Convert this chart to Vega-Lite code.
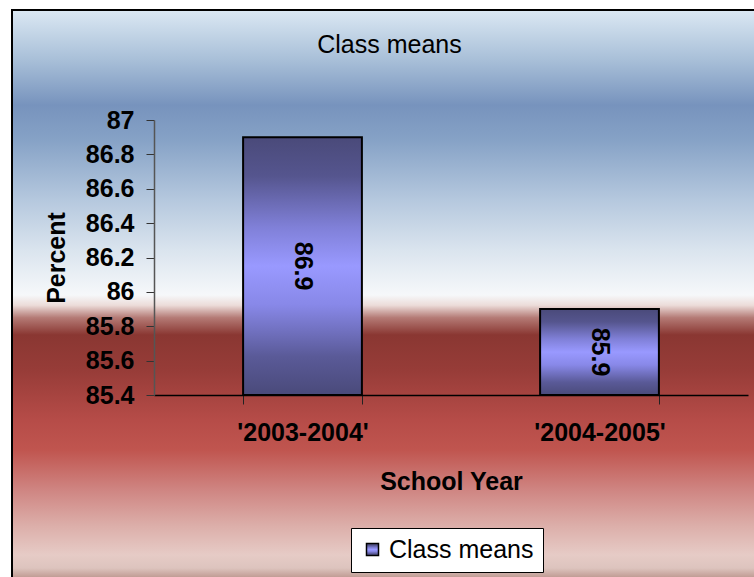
{
  "$schema": "https://vega.github.io/schema/vega-lite/v6.json",
  "width": 745,
  "height": 570,
  "autosize": {"type": "none"},
  "padding": {"left": 12, "top": 10, "right": 0, "bottom": 0},
  "background": "white",
  "title": {
    "text": "Class means",
    "fontSize": 25,
    "fontWeight": "normal",
    "font": "Liberation Sans",
    "color": "black",
    "anchor": "middle",
    "frame": "group",
    "baseline": "top",
    "offset": -48,
    "dx": 5
  },
  "data": {
    "values": [
      {"year": "'2003-2004'", "value": 86.9},
      {"year": "'2004-2005'", "value": 85.9}
    ]
  },
  "config": {
    "font": "Liberation Sans",
    "view": {
      "stroke": "black",
      "strokeWidth": 2,
      "fill": {
        "gradient": "linear",
        "x1": 0, "y1": 0, "x2": 0, "y2": 1,
        "stops": [
          {"offset": 0, "color": "#dbe8f3"},
          {"offset": 0.088, "color": "#a8bfd8"},
          {"offset": 0.167, "color": "#7793bd"},
          {"offset": 0.228, "color": "#86a2c6"},
          {"offset": 0.333, "color": "#b5c8de"},
          {"offset": 0.421, "color": "#dae4ee"},
          {"offset": 0.5, "color": "#f6f8fa"},
          {"offset": 0.518, "color": "#ecdcd9"},
          {"offset": 0.54, "color": "#b47a75"},
          {"offset": 0.57, "color": "#8a3732"},
          {"offset": 0.632, "color": "#973c38"},
          {"offset": 0.72, "color": "#b64c48"},
          {"offset": 0.772, "color": "#c0554f"},
          {"offset": 0.842, "color": "#cf8582"},
          {"offset": 0.904, "color": "#dcaea9"},
          {"offset": 0.956, "color": "#e6cbc6"},
          {"offset": 0.979, "color": "#ddc4be"},
          {"offset": 1, "color": "#b89088"}
        ]
      }
    }
  },
  "layer": [
    {
      "mark": {
        "type": "bar",
        "strokeWidth": 2,
        "fill": {
          "gradient": "linear",
          "x1": 0, "y1": 0, "x2": 0, "y2": 1,
          "stops": [
            {"offset": 0, "color": "#4a4a7a"},
            {"offset": 0.15, "color": "#55558e"},
            {"offset": 0.35, "color": "#8080d8"},
            {"offset": 0.5, "color": "#9999ff"},
            {"offset": 0.65, "color": "#8888e8"},
            {"offset": 0.85, "color": "#5a5a98"},
            {"offset": 1, "color": "#4a4a7a"}
          ]
        }
      },
      "encoding": {
        "x": {
          "field": "year",
          "type": "nominal",
          "sort": null,
          "scale": {"range": [142, 736], "paddingInner": 0.6, "paddingOuter": 0.3},
          "axis": {
            "title": "School Year",
            "labelAngle": 0,
            "labelFontSize": 25,
            "labelFontWeight": "bold",
            "labelColor": "black",
            "labelPadding": 16,
            "tickBand": "extent",
            "tickSize": 9,
            "tickColor": "#222",
            "domainColor": "black",
            "domainWidth": 1.5,
            "grid": false,
            "offset": -185,
            "titleFontSize": 25,
            "titleFontWeight": "bold",
            "titleColor": "black",
            "titlePadding": 24
          }
        },
        "y": {
          "field": "value",
          "type": "quantitative",
          "scale": {"domain": [85.4, 87], "range": [385, 110], "zero": false, "nice": false},
          "axis": {
            "title": "Percent",
            "values": [85.4, 85.6, 85.8, 86, 86.2, 86.4, 86.6, 86.8, 87],
            "format": "~g",
            "labelFontSize": 25,
            "labelFontWeight": "bold",
            "labelColor": "black",
            "labelPadding": 12,
            "labelOverlap": false,
            "tickSize": 8,
            "tickColor": "#333",
            "domainColor": "#555",
            "domainWidth": 1.5,
            "grid": false,
            "offset": -142,
            "titleFontSize": 25,
            "titleFontWeight": "bold",
            "titleColor": "black",
            "titlePadding": 16
          }
        },
        "y2": {"datum": 85.4},
        "stroke": {
          "datum": "Class means",
          "type": "nominal",
          "scale": {"range": ["black"]},
          "legend": {
            "orient": "none",
            "legendX": 339,
            "legendY": 518,
            "title": null,
            "symbolType": "square",
            "symbolSize": 144,
            "symbolStrokeWidth": 1.5,
            "symbolFillColor": "#7c7cd6",
            "labelFontSize": 25,
            "labelColor": "black",
            "labelOffset": 4,
            "fillColor": "white",
            "strokeColor": "black",
            "padding": 9
          }
        }
      }
    },
    {
      "mark": {"type": "text", "angle": 90, "fontSize": 25, "fontWeight": "bold", "color": "black", "align": "center", "baseline": "middle"},
      "encoding": {
        "x": {"field": "year", "type": "nominal", "sort": null},
        "y": {
          "field": "value",
          "type": "quantitative",
          "scale": {"domain": [85.4, 88.6], "range": [385, 110], "zero": false, "nice": false},
          "axis": null
        },
        "text": {"field": "value", "type": "quantitative", "format": ".1f"}
      }
    }
  ],
  "resolve": {"scale": {"y": "independent"}}
}
